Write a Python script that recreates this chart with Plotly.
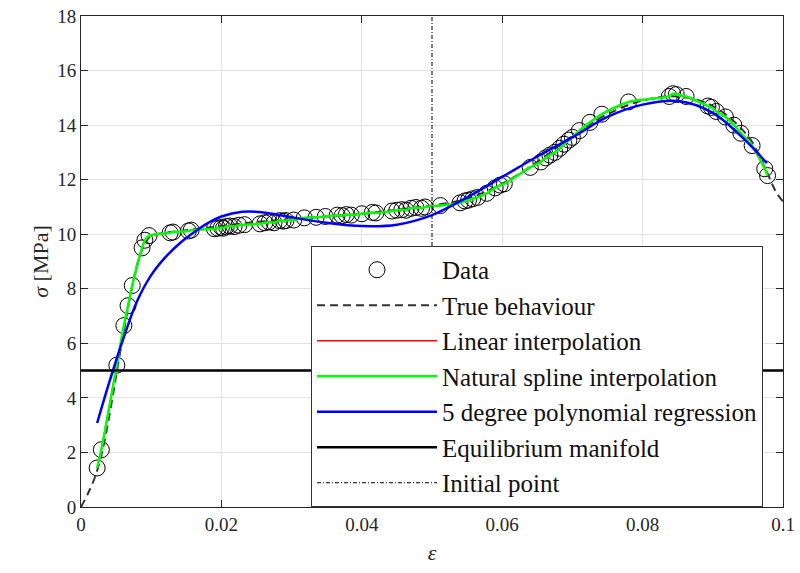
import plotly.graph_objects as go

# ---- data ----
data_eps = [0.0023, 0.0029, 0.0051, 0.0061, 0.0067, 0.0073, 0.0087, 0.0091, 0.0097,
            0.0127, 0.0131, 0.0153, 0.0157,
            0.0190, 0.0195, 0.0200, 0.0203, 0.0207, 0.0212, 0.0218, 0.0225, 0.0233,
            0.0255, 0.0262, 0.0268, 0.0275, 0.0283, 0.0288, 0.0292,
            0.0303, 0.0318, 0.0335, 0.0348,
            0.0365, 0.0372, 0.0378, 0.0385, 0.0400, 0.0415, 0.0420,
            0.0443, 0.0450, 0.0457, 0.0463, 0.0470, 0.0477, 0.0485, 0.0490,
            0.0512,
            0.0540, 0.0547, 0.0552, 0.0558, 0.0565,
            0.0578, 0.0590, 0.0597, 0.0603,
            0.0640, 0.0655, 0.0662, 0.0668, 0.0675, 0.0682, 0.0688, 0.0695, 0.0700,
            0.0710, 0.0725, 0.0742, 0.0780, 0.0838, 0.0843, 0.0848, 0.0862,
            0.0893, 0.0898, 0.0905, 0.0918, 0.0930, 0.0940, 0.0956, 0.0974, 0.0978]
data_sigma = [1.43, 2.10, 5.20, 6.65, 7.38, 8.12, 9.50, 9.78, 9.95,
              10.05, 10.08, 10.12, 10.15,
              10.20, 10.22, 10.25, 10.22, 10.28, 10.30, 10.28, 10.33, 10.35,
              10.38, 10.42, 10.45, 10.42, 10.50, 10.48, 10.50,
              10.52, 10.60, 10.62, 10.65,
              10.70, 10.68, 10.72, 10.70, 10.75, 10.80, 10.78,
              10.85, 10.88, 10.90, 10.88, 10.95, 10.98, 10.95, 11.00,
              11.05,
              11.15, 11.22, 11.25, 11.30, 11.35,
              11.50, 11.70, 11.80, 11.85,
              12.45, 12.65, 12.80, 12.90, 13.00, 13.15, 13.30, 13.45, 13.55,
              13.80, 14.10, 14.40, 14.85, 15.05, 15.15, 15.12, 15.05,
              14.70, 14.65, 14.50, 14.30, 14.00, 13.70, 13.25, 12.40, 12.15]

true_eps = [0, 0.001, 0.002, 0.003, 0.004, 0.005, 0.006, 0.007, 0.008, 0.009, 0.010,
            0.012, 0.015, 0.020, 0.025, 0.030, 0.035, 0.040, 0.045, 0.050, 0.055,
            0.060, 0.065, 0.070, 0.075, 0.080, 0.085, 0.090, 0.095, 0.0975, 0.099, 0.100]
true_sigma = [0, 0.5, 1.1, 2.0, 3.3, 4.8, 6.3, 7.7, 8.9, 9.6, 9.95,
              10.05, 10.15, 10.3, 10.45, 10.55, 10.65, 10.75, 10.9, 11.05, 11.3,
              11.85, 12.65, 13.6, 14.4, 14.9, 15.05, 14.7, 13.6, 12.4, 11.55, 11.2]

poly_eps = [0.0023, 0.004, 0.006, 0.008, 0.010, 0.012, 0.014, 0.016, 0.018, 0.020,
            0.023, 0.026, 0.030, 0.035, 0.040, 0.045, 0.050, 0.055, 0.060, 0.065,
            0.070, 0.075, 0.080, 0.085, 0.090, 0.095, 0.0977]
poly_sigma = [3.08, 4.55, 6.15, 7.55, 8.5, 9.15, 9.65, 10.05, 10.4, 10.65,
              10.82, 10.8, 10.62, 10.42, 10.3, 10.35, 10.7, 11.35, 12.1, 12.85,
              13.55, 14.3, 14.75, 14.88, 14.45, 13.35, 12.6]

eq_eps = [0, 0.1]
eq_sigma = [5, 5]
init_eps = [0.05, 0.05]
init_sigma = [0, 18]

x_ticks = [0, 0.02, 0.04, 0.06, 0.08, 0.1]
x_labels = ["0", "0.02", "0.04", "0.06", "0.08", "0.1"]
y_ticks = [0, 2, 4, 6, 8, 10, 12, 14, 16, 18]

FONT = "Liberation Serif, Times New Roman, serif"

fig = go.Figure()
fig.add_trace(go.Scatter(x=data_eps, y=data_sigma, mode="markers", name="Data",
                         marker=dict(symbol="circle-open", size=16, color="black",
                                     line=dict(width=1, color="black"))))
fig.add_trace(go.Scatter(x=true_eps, y=true_sigma, mode="lines", name="True behaviour",
                         line=dict(color="#333333", width=2, dash="8px,5px", shape="spline")))
fig.add_trace(go.Scatter(x=data_eps, y=data_sigma, mode="lines", name="Linear interpolation",
                         line=dict(color="#ff0000", width=1.5)))
fig.add_trace(go.Scatter(x=data_eps, y=data_sigma, mode="lines", name="Natural spline interpolation",
                         line=dict(color="#00ff00", width=2.5, shape="spline", smoothing=1.0)))
fig.add_trace(go.Scatter(x=poly_eps, y=poly_sigma, mode="lines", name="5 degree polynomial regression",
                         line=dict(color="#0000ff", width=2.5, shape="spline")))
fig.add_trace(go.Scatter(x=eq_eps, y=eq_sigma, mode="lines", name="Equilibrium manifold",
                         line=dict(color="black", width=2.5)))
fig.add_trace(go.Scatter(x=init_eps, y=init_sigma, mode="lines", name="Initial point",
                         line=dict(color="black", width=1, dash="4px,2px,1px,2px")))

axis_common = dict(showline=True, linecolor="#262626", linewidth=1, mirror="ticks",
                   ticks="inside", ticklen=7, tickcolor="#262626", automargin=False,
                   ticklabeloverflow="allow",
                   showgrid=True, gridcolor="#e3e3e3", gridwidth=1, zeroline=False,
                   tickfont=dict(family=FONT, size=19, color="#262626"))

fig.update_layout(
    width=800, height=573,
    margin=dict(l=81, r=17, t=16, b=66),
    paper_bgcolor="white", plot_bgcolor="white",
    font=dict(family=FONT, color="#262626"),
    xaxis=dict(range=[0, 0.1], tickvals=x_ticks, ticktext=x_labels,
               title=dict(text="<i>ε</i>", font=dict(family=FONT, size=22), standoff=10),
               **axis_common),
    yaxis=dict(range=[0, 18], tickvals=y_ticks,
               title=dict(text="<i>σ</i> [MPa]", font=dict(family=FONT, size=22), standoff=2),
               **axis_common),
    legend=dict(x=0.9715, y=0.5316, xanchor="right", yanchor="top",
                bgcolor="white", bordercolor="#333333", borderwidth=1,
                font=dict(family=FONT, size=25, color="#111111"),
                itemwidth=120, tracegroupgap=0),
    showlegend=True,
)

# remove the default page margin so the figure sits at the window's top-left corner
fig.write_html("out.html", config={"displayModeBar": False},
               post_script="document.body.style.margin='0px';")
